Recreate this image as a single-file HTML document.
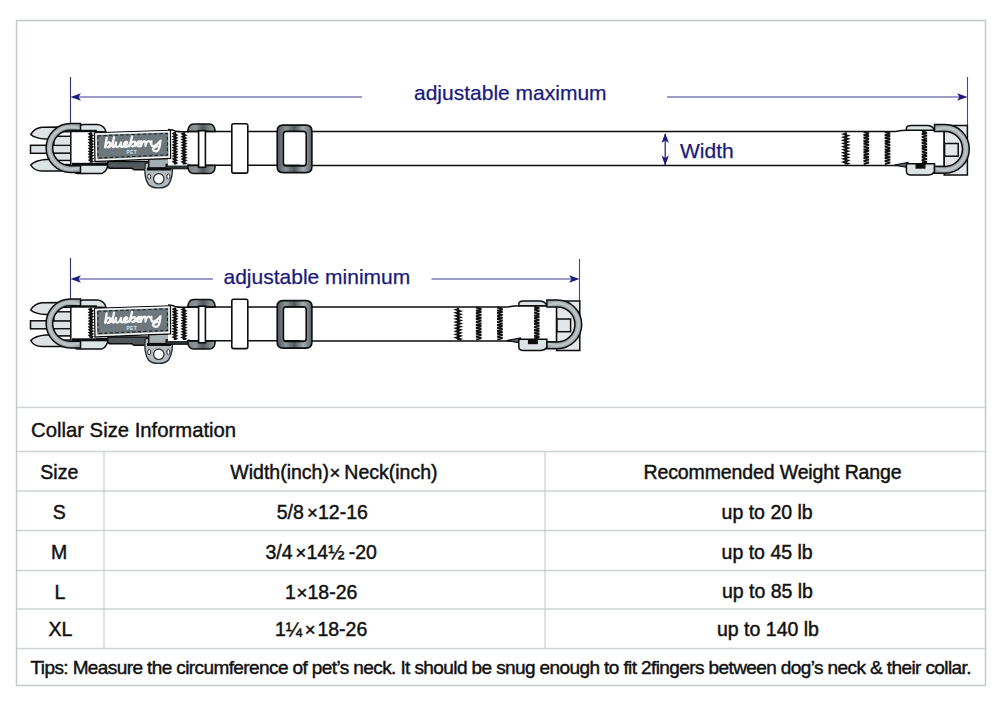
<!DOCTYPE html>
<html><head><meta charset="utf-8">
<style>
html,body{margin:0;padding:0;background:#fff;width:1000px;height:706px;overflow:hidden}
svg{display:block}
.t{font-family:"Liberation Sans",sans-serif;fill:#111;stroke:#111;stroke-width:0.45}
.nav{font-family:"Liberation Sans",sans-serif;fill:#1a1a7a;stroke:#1a1a7a;stroke-width:0.25}
</style></head><body>
<svg width="1000" height="706" viewBox="0 0 1000 706">
<defs>
  <linearGradient id="dring" x1="0" y1="0" x2="1" y2="0">
    <stop offset="0" stop-color="#8d9599"/><stop offset="0.5" stop-color="#b9c0c3"/><stop offset="1" stop-color="#8d9599"/>
  </linearGradient>
  <radialGradient id="dringR" gradientUnits="userSpaceOnUse" cx="945" cy="148.9" r="24.3">
    <stop offset="0.72" stop-color="#8b9397"/><stop offset="0.86" stop-color="#c2c8cb"/><stop offset="1" stop-color="#959da0"/>
  </radialGradient>
  <radialGradient id="dringL" gradientUnits="userSpaceOnUse" cx="70.5" cy="148" r="24.4">
    <stop offset="0.73" stop-color="#8b9397"/><stop offset="0.86" stop-color="#c2c8cb"/><stop offset="1" stop-color="#959da0"/>
  </radialGradient>
  <linearGradient id="slider" x1="0" y1="0" x2="1" y2="0">
    <stop offset="0" stop-color="#7a8286"/><stop offset="0.3" stop-color="#8d9599"/><stop offset="0.55" stop-color="#4f575b"/><stop offset="0.8" stop-color="#7f878b"/><stop offset="1" stop-color="#9aa2a5"/>
  </linearGradient>
  <linearGradient id="sq" x1="0" y1="0" x2="1" y2="0">
    <stop offset="0" stop-color="#4f575b"/><stop offset="0.25" stop-color="#8c9498"/><stop offset="0.5" stop-color="#4f575b"/><stop offset="0.75" stop-color="#a5acaf"/><stop offset="1" stop-color="#5a6266"/>
  </linearGradient>
</defs>
<!-- frame -->
<rect x="16.5" y="20.5" width="969" height="665" fill="none" stroke="#c3c8ca" stroke-width="1.5"/>
<g stroke="#cdd3d5" stroke-width="1.3">
  <line x1="17" y1="407.5" x2="985" y2="407.5"/>
  <line x1="17" y1="451.5" x2="985" y2="451.5"/>
  <line x1="17" y1="491" x2="985" y2="491"/>
  <line x1="17" y1="530.5" x2="985" y2="530.5"/>
  <line x1="17" y1="570.5" x2="985" y2="570.5"/>
  <line x1="17" y1="609" x2="985" y2="609"/>
  <line x1="17" y1="648.5" x2="985" y2="648.5"/>
  <line x1="104" y1="451.5" x2="104" y2="648.5"/>
  <line x1="545" y1="451.5" x2="545" y2="648.5"/>
</g>
<g class="t" font-size="19.5">
  <text x="40.3" y="478.7" font-size="19.5">Size</text>
  <text x="230.3" y="478.7" font-size="19.5">Width(inch)</text>
  <text x="329.4" y="478.7" font-size="18.5">×</text>
  <text x="344.3" y="478.7" font-size="19.5">Neck(inch)</text>
  <text x="643.5" y="478.7" font-size="19.5" letter-spacing="-0.12">Recommended Weight Range</text>
  <text x="52.7" y="518.6" font-size="19.5">S</text>
  <text x="276.7" y="518.6" font-size="19.5">5/8</text>
  <text x="307.0" y="518.6" font-size="18.5">×</text>
  <text x="318.0" y="518.6" font-size="19.5">12-16</text>
  <text x="721.6" y="518.6" font-size="19.5">up to 20 lb</text>
  <text x="51.0" y="559.0" font-size="19.5">M</text>
  <text x="265.5" y="559.0" font-size="19.5">3/4</text>
  <text x="295.4" y="559.0" font-size="18.5">×</text>
  <text x="306.5" y="559.0" font-size="19.5">14½</text>
  <text x="348.7" y="559.0" font-size="19.5">-20</text>
  <text x="721.6" y="559.0" font-size="19.5">up to 45 lb</text>
  <text x="54.6" y="598.6" font-size="19.5">L</text>
  <text x="285.0" y="598.6" font-size="19.5">1</text>
  <text x="296.5" y="598.6" font-size="18.5">×</text>
  <text x="307.5" y="598.6" font-size="19.5">18-26</text>
  <text x="721.9" y="598.4" font-size="19.5">up to 85 lb</text>
  <text x="48.4" y="635.5" font-size="19.5">XL</text>
  <text x="275.0" y="635.5" font-size="19.5">1¼</text>
  <text x="304.8" y="635.5" font-size="18.5">×</text>
  <text x="317.4" y="635.5" font-size="19.5">18-26</text>
  <text x="717.0" y="635.5" font-size="19.5">up to 140 lb</text>
  <text x="31" y="437.2" font-size="20.3" style="stroke-width:0.4">Collar Size Information</text>
  <text x="30.5" y="673.8" font-size="19" letter-spacing="-0.6">Tips: Measure the circumference of pet’s neck. It should be snug enough to fit 2fingers between dog’s neck &amp; their collar.</text>
</g>

<g>
  <line x1="70.5" y1="77" x2="70.5" y2="131" stroke="#33336a" stroke-width="1.1"/>
  <line x1="967.5" y1="77" x2="967.5" y2="125" stroke="#4444a0" stroke-width="1.1"/>
  <line x1="76" y1="97" x2="362" y2="97" stroke="#7c7cb4" stroke-width="1.6"/>
  <line x1="667" y1="97" x2="962" y2="97" stroke="#7c7cb4" stroke-width="1.6"/>
  <path d="M70.5 97 L81 93.3 L78.5 97 L81 100.7 Z" fill="#1a1a80"/>
  <path d="M967.5 97 L957 93.3 L959.5 97 L957 100.7 Z" fill="#1a1a80"/>
  <text class="nav" x="414" y="99.5" font-size="21">adjustable maximum</text>
  <text class="nav" x="680" y="158" font-size="21">Width</text>
</g>
<g>
  <line x1="70.5" y1="258" x2="70.5" y2="307" stroke="#33336a" stroke-width="1.1"/>
  <line x1="579.5" y1="259" x2="579.5" y2="301" stroke="#4444a0" stroke-width="1.1"/>
  <line x1="76" y1="279" x2="213" y2="279" stroke="#7c7cb4" stroke-width="1.6"/>
  <line x1="431.5" y1="279" x2="574" y2="279" stroke="#7c7cb4" stroke-width="1.6"/>
  <path d="M70.5 279 L81 275.3 L78.5 279 L81 282.7 Z" fill="#1a1a80"/>
  <path d="M579.5 279 L569 275.3 L571.5 279 L569 282.7 Z" fill="#1a1a80"/>
  <text class="nav" x="223.5" y="284.3" font-size="21">adjustable minimum</text>
</g>

<!-- collar 1 strap -->
<line x1="300" y1="131.6" x2="897" y2="131.6" stroke="#0d0d0d" stroke-width="1.5"/>
<line x1="300" y1="165.4" x2="897" y2="165.4" stroke="#0d0d0d" stroke-width="1.5"/>

<g id="LA">
  <!-- male buckle prongs -->
  <path d="M30.7 134.5 C33 130.5 37 127.6 42 127.2 L62 127 L62 139 L46 139 C40 138.8 34 137.5 30.7 134.5 Z" fill="#dde2e4" stroke="#0d0d0d" stroke-width="1.5"/>
  <path d="M30.7 165 C33 169 37 171 42 171.1 L62 171.1 L62 159.6 L46 159.6 C40 160 34 161.5 30.7 165 Z" fill="#dde2e4" stroke="#0d0d0d" stroke-width="1.5"/>
  <rect x="30.5" y="145.3" width="41" height="8" fill="#dde2e4" stroke="#0d0d0d" stroke-width="1.5"/>
  <!-- inner prong bars inside ring -->
  <rect x="57" y="131.8" width="14" height="4.6" fill="#fff" stroke="#0d0d0d" stroke-width="1.4"/>
  <rect x="54" y="136.4" width="17" height="8.9" fill="#dde2e4" stroke="#0d0d0d" stroke-width="1.2"/>
  <rect x="54" y="153.3" width="17" height="7.2" fill="#dde2e4" stroke="#0d0d0d" stroke-width="1.2"/>
  <rect x="57" y="160.5" width="14" height="4.0" fill="#fff" stroke="#0d0d0d" stroke-width="1.4"/>
  <!-- female buckle top & bottom pieces -->
  <path d="M79.5 131 L79.5 127.6 Q79.8 124.5 83.5 124.5 L97 124.5 Q102.5 124.7 105 129.2 L106 132 Z" fill="#dde2e4" stroke="#0d0d0d" stroke-width="1.5"/>
  <path d="M74.5 164.5 L108 163 Q107.8 170.5 102.5 173.2 Q101 173.6 98 173.6 L78 173.6 Q74.5 173.4 74.5 170 Z" fill="#dde2e4" stroke="#0d0d0d" stroke-width="1.5"/>
  <!-- strap start -->
  <rect x="70.8" y="131" width="25" height="33.8" fill="#fff"/>
  <rect x="70" y="129.8" width="27" height="2.4" fill="#0d0d0d"/>
  <rect x="72" y="162.8" width="38" height="3.0" fill="#0d0d0d"/>
  <line x1="70.8" y1="131" x2="70.8" y2="165" stroke="#0d0d0d" stroke-width="1.5"/>
  <polygon points="89.60,132.20 89.60,132.78 87.60,133.79 89.60,135.25 89.60,135.68 87.60,136.69 89.60,138.15 89.60,138.58 87.60,139.59 89.60,141.05 89.60,141.48 87.60,142.49 89.60,143.94 89.60,144.38 87.60,145.39 89.60,146.84 89.60,147.28 87.60,148.29 89.60,149.75 89.60,150.18 87.60,151.19 89.60,152.65 89.60,153.08 87.60,154.09 89.60,155.55 89.60,155.98 87.60,156.99 89.60,158.44 89.60,158.88 87.60,159.89 89.60,161.34 89.60,162.80 92.20,162.80 92.20,162.79 94.20,161.34 92.20,160.33 92.20,159.89 94.20,158.44 92.20,157.43 92.20,157.00 94.20,155.54 92.20,154.53 92.20,154.09 94.20,152.64 92.20,151.63 92.20,151.19 94.20,149.74 92.20,148.73 92.20,148.29 94.20,146.84 92.20,145.83 92.20,145.39 94.20,143.94 92.20,142.93 92.20,142.50 94.20,141.04 92.20,140.03 92.20,139.59 94.20,138.14 92.20,137.13 92.20,136.69 94.20,135.24 92.20,134.23 92.20,132.20" fill="#111"/>
  <!-- D ring -->
  <path d="M80.5 123.6 L70.5 123.6 A24.4 24.4 0 0 0 70.5 172.4 L80.5 172.4 L80.5 165.8 L70.5 165.8 A17.8 17.8 0 0 1 70.5 130.2 L80.5 130.2 Z" fill="url(#dringL)" stroke="#0d0d0d" stroke-width="1.5"/>
  <!-- band under label -->
  <path d="M108 161.5 L150 161.5 L150 169.8 L134 169.8 L132 168.3 L110 168.3 Q107.5 168 107.5 165 Z" fill="#50585c" stroke="#0d0d0d" stroke-width="1.5"/>
  <!-- tag -->
  <path d="M145.2 163 L172.2 163 C173 172 172.5 179 168.5 184.5 C165 189 152 189 148.5 184.5 C144.5 179 144.2 172 145.2 163 Z" fill="#b4bbbe" stroke="#25292b" stroke-width="1.3"/>
  <circle cx="158.8" cy="178.8" r="5.2" fill="#fff" stroke="#25292b" stroke-width="1.2"/>
  <ellipse cx="149.2" cy="176.6" rx="1.5" ry="2.7" fill="#fff" stroke="#25292b" stroke-width="1"/>
  <ellipse cx="168.4" cy="176.6" rx="1.5" ry="2.7" fill="#fff" stroke="#25292b" stroke-width="1"/>
  <rect x="148.8" y="158.6" width="20.4" height="9.4" fill="#a7aeb1" stroke="#0d0d0d" stroke-width="1.3"/>
  <rect x="147" y="167.5" width="24" height="3" fill="#0d0d0d"/>
  <!-- strap between label and slider -->
  <rect x="166" y="164.2" width="23" height="4.6" fill="#2b3033" stroke="#0d0d0d" stroke-width="1"/>
  <path d="M168 129.8 Q178 129.2 188.5 131.5 L188.5 165.6 L168 165.6 Z" fill="#fff"/><path d="M168 129.6 Q173 129.6 176 131.3 Q180 132.1 189 131.6" fill="none" stroke="#0d0d0d" stroke-width="1.5"/>
  <polygon points="173.80,132.00 173.80,132.56 171.50,133.54 173.80,134.94 173.80,135.36 171.50,136.34 173.80,137.74 173.80,138.16 171.50,139.14 173.80,140.54 173.80,140.96 171.50,141.94 173.80,143.34 173.80,143.76 171.50,144.74 173.80,146.14 173.80,146.56 171.50,147.54 173.80,148.94 173.80,149.36 171.50,150.34 173.80,151.74 173.80,152.16 171.50,153.14 173.80,154.54 173.80,154.96 171.50,155.94 173.80,157.34 173.80,157.76 171.50,158.74 173.80,160.14 173.80,160.56 171.50,161.54 173.80,162.94 173.80,164.60 176.20,164.60 176.20,164.34 178.50,162.94 176.20,161.96 176.20,161.54 178.50,160.14 176.20,159.16 176.20,158.74 178.50,157.34 176.20,156.36 176.20,155.94 178.50,154.54 176.20,153.56 176.20,153.14 178.50,151.74 176.20,150.76 176.20,150.34 178.50,148.94 176.20,147.96 176.20,147.54 178.50,146.14 176.20,145.16 176.20,144.74 178.50,143.34 176.20,142.36 176.20,141.94 178.50,140.54 176.20,139.56 176.20,139.14 178.50,137.74 176.20,136.76 176.20,136.34 178.50,134.94 176.20,133.96 176.20,132.00" fill="#111"/>
  <polygon points="182.80,132.20 182.80,132.76 180.30,133.74 182.80,135.14 182.80,135.56 180.30,136.54 182.80,137.94 182.80,138.36 180.30,139.34 182.80,140.74 182.80,141.16 180.30,142.14 182.80,143.54 182.80,143.96 180.30,144.94 182.80,146.34 182.80,146.76 180.30,147.74 182.80,149.14 182.80,149.56 180.30,150.54 182.80,151.94 182.80,152.36 180.30,153.34 182.80,154.74 182.80,155.16 180.30,156.14 182.80,157.54 182.80,157.96 180.30,158.94 182.80,160.34 182.80,160.76 180.30,161.74 182.80,163.14 182.80,164.60 185.20,164.60 185.20,164.54 187.70,163.14 185.20,162.16 185.20,161.74 187.70,160.34 185.20,159.36 185.20,158.94 187.70,157.54 185.20,156.56 185.20,156.14 187.70,154.74 185.20,153.76 185.20,153.34 187.70,151.94 185.20,150.96 185.20,150.54 187.70,149.14 185.20,148.16 185.20,147.74 187.70,146.34 185.20,145.36 185.20,144.94 187.70,143.54 185.20,142.56 185.20,142.14 187.70,140.74 185.20,139.76 185.20,139.34 187.70,137.94 185.20,136.96 185.20,136.54 187.70,135.14 185.20,134.16 185.20,132.20" fill="#111"/>
  <!-- label -->
  <path d="M94.5 132.8 L170.4 130.3 L170.6 158.3 L95 161.5 Z" fill="#6e787c" stroke="#0d0d0d" stroke-width="1.3"/>
  <path d="M96 134.1 L169 131.6 L169.2 156.9 L96.5 160 Z" fill="#6e787c" stroke="#f4f6f7" stroke-width="1.6"/>
  <path d="M97.8 135.8 L167.3 133.4 L167.5 155 L98.2 158 Z" fill="none" stroke="#1e2325" stroke-width="1.1" stroke-dasharray="3.4 2.2"/>
  <path d="M106.9 137.2 C106.3 140.3 105.5 143.8 105.0 146.6 C105.9 143.6 107.6 141.5 109.2 141.5 C110.9 141.5 110.5 146.6 107.4 146.7 C109.2 146.8 111.0 145.8 112.0 144.0 C112.9 142.1 113.7 139.2 114.2 136.8 C113.5 139.8 112.6 143.5 112.6 145.8 C112.6 147.0 114.0 146.8 115.0 145.3 C115.5 144.5 115.9 143.2 116.1 142.1 C115.8 143.8 115.5 146.7 117.1 146.7 C118.7 146.7 120.4 144.0 121.1 142.1 C120.8 143.8 120.6 146.7 121.8 146.7 C122.4 146.7 123.0 146.3 123.5 145.6 C125.0 145.0 127.6 143.4 127.3 142.1 C127.0 141.0 124.2 141.8 123.8 144.2 C123.4 146.3 124.8 147.0 126.4 146.7 C127.8 146.4 129.0 145.5 129.8 144.2 C130.6 142.5 131.6 139.2 132.3 136.3 C131.4 139.6 130.0 143.5 129.5 146.0 C130.6 143.5 132.5 141.6 134.3 141.6 C136.0 141.6 135.6 146.4 132.2 146.3 C134.0 146.5 135.6 145.6 136.4 144.8 C137.9 144.3 140.3 142.8 140.0 141.8 C139.7 140.9 137.3 141.6 136.9 143.9 C136.5 146.0 137.8 146.8 139.3 146.5 C140.2 146.3 140.9 145.2 141.2 143.5 C141.3 142.5 141.3 142.0 141.3 141.6 C141.4 143.2 141.0 145.2 140.9 146.3 C141.6 143.6 142.8 141.5 144.4 141.5 C145.6 141.5 145.6 143.0 145.4 146.3 C145.9 143.5 147.2 141.5 148.8 141.5 C150.0 141.5 150.3 142.3 150.6 143.0 C151.1 142.6 151.4 142.0 151.5 141.8 C151.2 143.6 150.8 146.6 153.0 146.6 C155.5 146.6 158.5 143.5 160.6 141.3 C160.0 144.5 159.8 149.0 157.8 151.0 C156.2 152.5 153.4 151.8 152.8 149.8 C152.5 148.8 154.5 147.6 157.2 146.8" fill="none" stroke="#f4f6f6" stroke-width="2.3" stroke-linecap="round" stroke-linejoin="round" transform="rotate(-1.3 133 144)"/>
  <text x="126.5" y="154" font-family="Liberation Sans" font-size="5.6" font-weight="bold" fill="#dfe4e6" letter-spacing="0.5" textLength="10.5" lengthAdjust="spacingAndGlyphs">PET</text>
  <!-- slider -->
  <path d="M187.6 131.5 L188.5 128 Q190 124.1 194 124.1 L209 124.1 Q213 124.1 214.5 128 L215.3 131.5 Z" fill="url(#slider)" stroke="#0d0d0d" stroke-width="1.5"/>
  <path d="M187.6 165.6 L188.5 170 Q190 173.6 194 173.6 L209 173.6 Q213 173.6 214.5 170 L215.3 165.6 Z" fill="url(#slider)" stroke="#0d0d0d" stroke-width="1.5"/>
  <line x1="187" y1="131.6" x2="300" y2="131.6" stroke="#0d0d0d" stroke-width="1.5"/>
  <line x1="187" y1="165.3" x2="300" y2="165.3" stroke="#0d0d0d" stroke-width="1.5"/>
  <rect x="198.6" y="130.7" width="6.8" height="36.6" fill="#fff" stroke="#0d0d0d" stroke-width="1.6"/>
  <!-- keeper -->
  <rect x="231.8" y="123.7" width="16" height="49.4" rx="1.8" fill="#fff" stroke="#0d0d0d" stroke-width="1.6"/>
  <!-- square ring -->
  <path fill-rule="evenodd" d="M283 125.1 L306 125.1 Q311.9 125.1 311.9 131 L311.9 166.7 Q311.9 172.6 306 172.6 L283 172.6 Q277.2 172.6 277.2 166.7 L277.2 131 Q277.2 125.1 283 125.1 Z M286.4 131.3 L303.2 131.3 Q306.2 131.3 306.2 134.3 L306.2 163 Q306.2 166 303.2 166 L286.4 166 Q283.4 166 283.4 163 L283.4 134.3 Q283.4 131.3 286.4 131.3 Z" fill="url(#sq)" stroke="#0d0d0d" stroke-width="1.6"/>
</g>


<g id="RA">
  <polygon points="844.70,132.30 844.70,132.92 840.80,134.01 844.70,135.56 844.70,136.02 840.80,137.11 844.70,138.66 844.70,139.12 840.80,140.21 844.70,141.75 844.70,142.22 840.80,143.31 844.70,144.86 844.70,145.32 840.80,146.41 844.70,147.96 844.70,148.42 840.80,149.51 844.70,151.06 844.70,151.52 840.80,152.61 844.70,154.16 844.70,154.62 840.80,155.71 844.70,157.25 844.70,157.72 840.80,158.81 844.70,160.36 844.70,160.82 840.80,161.91 844.70,163.46 844.70,164.60 846.90,164.60 846.90,165.01 850.80,163.46 846.90,162.37 846.90,161.91 850.80,160.36 846.90,159.27 846.90,158.81 850.80,157.26 846.90,156.17 846.90,155.71 850.80,154.16 846.90,153.07 846.90,152.61 850.80,151.06 846.90,149.97 846.90,149.51 850.80,147.96 846.90,146.87 846.90,146.41 850.80,144.86 846.90,143.77 846.90,143.31 850.80,141.76 846.90,140.67 846.90,140.21 850.80,138.66 846.90,137.57 846.90,137.11 850.80,135.56 846.90,134.47 846.90,132.30" fill="#111"/>
  <polyline points="863.70,132.00 868.90,133.45 863.70,134.90 868.90,136.35 863.70,137.80 868.90,139.25 863.70,140.70 868.90,142.15 863.70,143.60 868.90,145.05 863.70,146.50 868.90,147.95 863.70,149.40 868.90,150.85 863.70,152.30 868.90,153.75 863.70,155.20 868.90,156.65 863.70,158.10 868.90,159.55 863.70,161.00 868.90,162.45 863.70,163.90" fill="none" stroke="#111" stroke-width="2.1" stroke-linejoin="miter" stroke-miterlimit="2"/>
  <polyline points="884.90,132.00 890.10,133.45 884.90,134.90 890.10,136.35 884.90,137.80 890.10,139.25 884.90,140.70 890.10,142.15 884.90,143.60 890.10,145.05 884.90,146.50 890.10,147.95 884.90,149.40 890.10,150.85 884.90,152.30 890.10,153.75 884.90,155.20 890.10,156.65 884.90,158.10 890.10,159.55 884.90,161.00 890.10,162.45 884.90,163.90" fill="none" stroke="#111" stroke-width="2.1" stroke-linejoin="miter" stroke-miterlimit="2"/>
  <!-- strap end -->
  <path d="M896 131.6 Q900 130.2 910 130.2 L944.2 130.2 L944.2 166.6 L910 166.6 Q902 166 896 165.2" fill="#fff" stroke="#0d0d0d" stroke-width="1.5"/>
  <path d="M894.5 165 L908 162.4 L908 167.6 Z" fill="#5d6568" stroke="#0d0d0d" stroke-width="1.2"/>
  <polyline points="921.90,131.20 926.90,132.65 921.90,134.10 926.90,135.55 921.90,137.00 926.90,138.45 921.90,139.90 926.90,141.35 921.90,142.80 926.90,144.25 921.90,145.70 926.90,147.15 921.90,148.60 926.90,150.05 921.90,151.50 926.90,152.95 921.90,154.40 926.90,155.85 921.90,157.30 926.90,158.75 921.90,160.20 926.90,161.65 921.90,163.10" fill="none" stroke="#111" stroke-width="2.1" stroke-linejoin="miter" stroke-miterlimit="2"/>
  <!-- top & bottom buckle pieces -->
  <path d="M906.4 130.3 L906.4 128 Q907 125.5 911 125.5 L928 125.5 Q932.8 126 934.5 130.3 Z" fill="#dde2e4" stroke="#0d0d0d" stroke-width="1.5"/>
  <path d="M906.4 163.7 L934.5 163.7 L934.5 172 Q932 175 928 175 L911 175 Q906.4 175 906.4 171 Z" fill="#dde2e4" stroke="#0d0d0d" stroke-width="1.5"/>
  <rect x="915.5" y="163.7" width="10" height="5" fill="#0d0d0d"/>
  <!-- female body square -->
  <rect x="944.2" y="125.5" width="23.2" height="49.5" fill="#e3e7e9" stroke="#0d0d0d" stroke-width="1.5"/>
  <rect x="944.6" y="143.5" width="13.6" height="12.7" fill="#e3e7e9" stroke="#0d0d0d" stroke-width="1.5"/>
  <!-- D ring right -->
  <path d="M934.5 124.6 L945 124.6 A24.3 24.3 0 0 1 945 173.2 L934.5 173.2 L934.5 166.4 L945 166.4 A17.5 17.5 0 0 0 945 131.4 L934.5 131.4 Z" fill="url(#dringR)" stroke="#0d0d0d" stroke-width="1.5"/>
</g>

<line x1="665.2" y1="134" x2="665.2" y2="165" stroke="#1a1a80" stroke-width="1.2"/>
<path d="M665.2 133 L661.5 143 L665.2 140.5 L668.9 143 Z" fill="#1a1a80"/>
<path d="M665.2 165.5 L661.5 155.5 L665.2 158 L668.9 155.5 Z" fill="#1a1a80"/>
<!-- collar 2 -->
<g transform="translate(0,175.5)">
  <line x1="300" y1="131.6" x2="510" y2="131.6" stroke="#0d0d0d" stroke-width="1.5"/>
  <line x1="300" y1="165.4" x2="510" y2="165.4" stroke="#0d0d0d" stroke-width="1.5"/>
  <use href="#LA"/>
  <use href="#RA" transform="translate(-387.6,0)"/>
</g>
</svg>
</body></html>
